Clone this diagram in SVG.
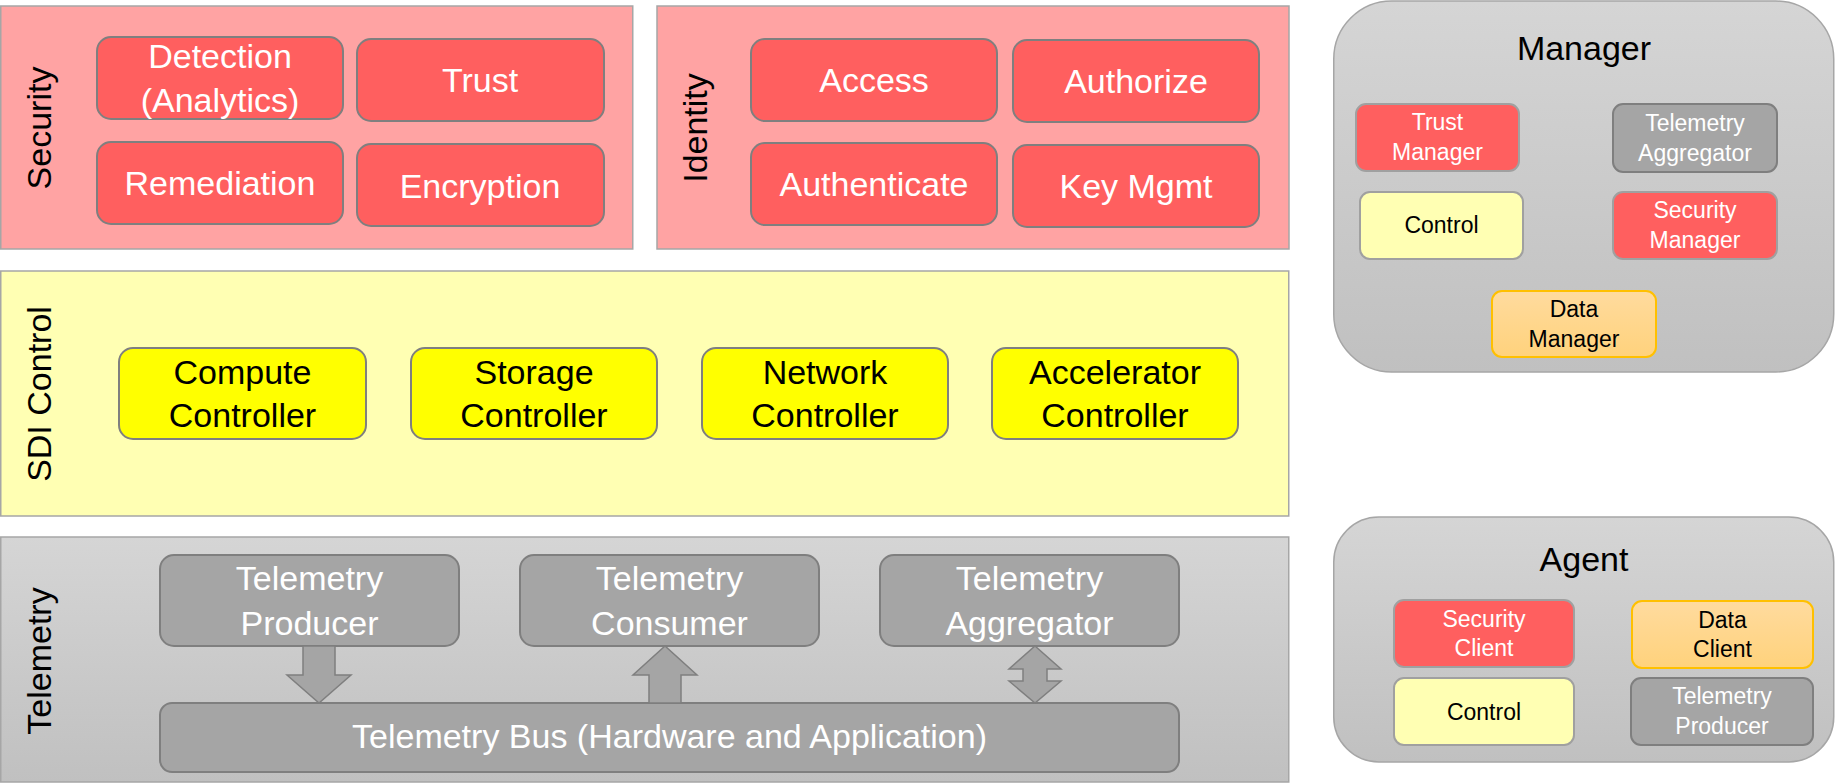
<svg xmlns="http://www.w3.org/2000/svg" width="1835" height="783" viewBox="0 0 1835 783">
<defs>
<linearGradient id="gGray" x1="0" y1="0" x2="0" y2="1"><stop offset="0" stop-color="#d5d5d5"/><stop offset="1" stop-color="#c0c0c0"/></linearGradient>
<linearGradient id="gOrange" x1="0" y1="0" x2="0" y2="1"><stop offset="0" stop-color="#ffdb9e"/><stop offset="1" stop-color="#ffd27c"/></linearGradient>
<style>
text{font-family:"Liberation Sans",Arial,sans-serif;text-anchor:middle}
.panelR{fill:#ffa3a3;stroke:#a6a6a6;stroke-width:1.5}
.panelY{fill:#ffffb3;stroke:#a6a6a6;stroke-width:1.5}
.panelG{fill:url(#gGray);stroke:#a6a6a6;stroke-width:1.5}
.red{fill:#ff5f5f;stroke:#7f7f7f;stroke-width:2}
.yel{fill:#ffff00;stroke:#7f7f7f;stroke-width:2}
.gry{fill:#a5a5a5;stroke:#7f7f7f;stroke-width:2}
.sred{fill:#ff5f5f;stroke:#a0a0a0;stroke-width:2}
.sgry{fill:#a5a5a5;stroke:#7f7f7f;stroke-width:2}
.syel{fill:#ffffb3;stroke:#a0a0a0;stroke-width:2}
.sorg{fill:url(#gOrange);stroke:#ffc000;stroke-width:2}
.big{font-size:34px}
.sm{font-size:23px}
.lab{font-size:34px;fill:#000}
.w{fill:#fff}
.k{fill:#000}
.arrow{fill:#a5a5a5;stroke:#7f7f7f;stroke-width:1.5}
</style>
</defs>

<g id="security">
<rect class="panelR" x="0.75" y="6" width="632" height="243"/>
<text class="lab" transform="translate(51,128) rotate(-90)">Security</text>
</g>
<g id="detection"><rect class="red" x="97" y="37" width="246" height="82" rx="14"/><text class="big w" x="220" y="68">Detection</text><text class="big w" x="220" y="112">(Analytics)</text></g>
<g id="trust"><rect class="red" x="357" y="39" width="247" height="82" rx="14"/><text class="big w" x="480" y="92">Trust</text></g>
<g id="remediation"><rect class="red" x="97" y="142" width="246" height="82" rx="14"/><text class="big w" x="220" y="195">Remediation</text></g>
<g id="encryption"><rect class="red" x="357" y="144" width="247" height="82" rx="14"/><text class="big w" x="480" y="198">Encryption</text></g>

<g id="identity">
<rect class="panelR" x="657" y="6" width="632" height="243"/>
<text class="lab" transform="translate(707,128) rotate(-90)">Identity</text>
</g>
<g id="access"><rect class="red" x="751" y="39" width="246" height="82" rx="14"/><text class="big w" x="874" y="92">Access</text></g>
<g id="authorize"><rect class="red" x="1013" y="40" width="246" height="82" rx="14"/><text class="big w" x="1136" y="93">Authorize</text></g>
<g id="authenticate"><rect class="red" x="751" y="143" width="246" height="82" rx="14"/><text class="big w" x="874" y="196">Authenticate</text></g>
<g id="keymgmt"><rect class="red" x="1013" y="145" width="246" height="82" rx="14"/><text class="big w" x="1136" y="198">Key Mgmt</text></g>

<g id="sdi">
<rect class="panelY" x="0.75" y="271" width="1288" height="245"/>
<text class="lab" transform="translate(51,394) rotate(-90)">SDI Control</text>
</g>
<g id="compute"><rect class="yel" x="119" y="348" width="247" height="91" rx="14"/><text class="big k" x="242.5" y="384">Compute</text><text class="big k" x="242.5" y="427">Controller</text></g>
<g id="storage"><rect class="yel" x="411" y="348" width="246" height="91" rx="14"/><text class="big k" x="534" y="384">Storage</text><text class="big k" x="534" y="427">Controller</text></g>
<g id="network"><rect class="yel" x="702" y="348" width="246" height="91" rx="14"/><text class="big k" x="825" y="384">Network</text><text class="big k" x="825" y="427">Controller</text></g>
<g id="accelerator"><rect class="yel" x="992" y="348" width="246" height="91" rx="14"/><text class="big k" x="1115" y="384">Accelerator</text><text class="big k" x="1115" y="427">Controller</text></g>

<g id="telemetry">
<rect class="panelG" x="0.75" y="537" width="1288" height="245"/>
<text class="lab" transform="translate(51,661) rotate(-90)">Telemetry</text>
</g>
<g id="producer"><rect class="gry" x="160" y="555" width="299" height="91" rx="14"/><text class="big w" x="309.5" y="590">Telemetry</text><text class="big w" x="309.5" y="635">Producer</text></g>
<g id="consumer"><rect class="gry" x="520" y="555" width="299" height="91" rx="14"/><text class="big w" x="669.5" y="590">Telemetry</text><text class="big w" x="669.5" y="635">Consumer</text></g>
<g id="aggregator"><rect class="gry" x="880" y="555" width="299" height="91" rx="14"/><text class="big w" x="1029.5" y="590">Telemetry</text><text class="big w" x="1029.5" y="635">Aggregator</text></g>
<g id="bus"><rect class="gry" x="160" y="703" width="1019" height="69" rx="12"/><text class="big w" x="669.5" y="748">Telemetry Bus (Hardware and Application)</text></g>

<g id="connectors">
<path class="arrow" d="M303,646 H335 V675 H351 L319,703 L287,675 H303 Z"/>
<path class="arrow" d="M649,703 V675 H633 L665,646 L697,675 H681 V703 Z"/>
<path class="arrow" d="M1035,646 L1061,669 H1047 V681 H1061 L1035,703 L1009,681 H1023 V669 H1009 Z"/>
</g>

<g id="manager">
<rect class="panelG" x="1333.75" y="1" width="500" height="371" rx="58"/>
<text class="lab" x="1584" y="60">Manager</text>
</g>
<g id="trustmanager"><rect class="sred" x="1356" y="104" width="163" height="67" rx="10"/><text class="sm w" x="1437.5" y="130">Trust</text><text class="sm w" x="1437.5" y="160">Manager</text></g>
<g id="mgr-aggregator"><rect class="sgry" x="1613" y="104" width="164" height="68" rx="10"/><text class="sm w" x="1695" y="131">Telemetry</text><text class="sm w" x="1695" y="161">Aggregator</text></g>
<g id="mgr-control"><rect class="syel" x="1360" y="192" width="163" height="67" rx="10"/><text class="sm k" x="1441.5" y="233">Control</text></g>
<g id="securitymanager"><rect class="sred" x="1613" y="192" width="164" height="67" rx="10"/><text class="sm w" x="1695" y="218">Security</text><text class="sm w" x="1695" y="248">Manager</text></g>
<g id="datamanager"><rect class="sorg" x="1492" y="291" width="164" height="66" rx="10"/><text class="sm k" x="1574" y="317">Data</text><text class="sm k" x="1574" y="347">Manager</text></g>

<g id="agent">
<rect class="panelG" x="1333.75" y="517" width="500" height="245" rx="45"/>
<text class="lab" x="1584" y="571">Agent</text>
</g>
<g id="securityclient"><rect class="sred" x="1394" y="600" width="180" height="67" rx="10"/><text class="sm w" x="1484" y="627">Security</text><text class="sm w" x="1484" y="656">Client</text></g>
<g id="dataclient"><rect class="sorg" x="1632" y="601" width="181" height="67" rx="10"/><text class="sm k" x="1722.5" y="628">Data</text><text class="sm k" x="1722.5" y="657">Client</text></g>
<g id="agent-control"><rect class="syel" x="1394" y="678" width="180" height="67" rx="10"/><text class="sm k" x="1484" y="720">Control</text></g>
<g id="agent-producer"><rect class="sgry" x="1631" y="678" width="182" height="67" rx="10"/><text class="sm w" x="1722" y="704">Telemetry</text><text class="sm w" x="1722" y="734">Producer</text></g>
</svg>
